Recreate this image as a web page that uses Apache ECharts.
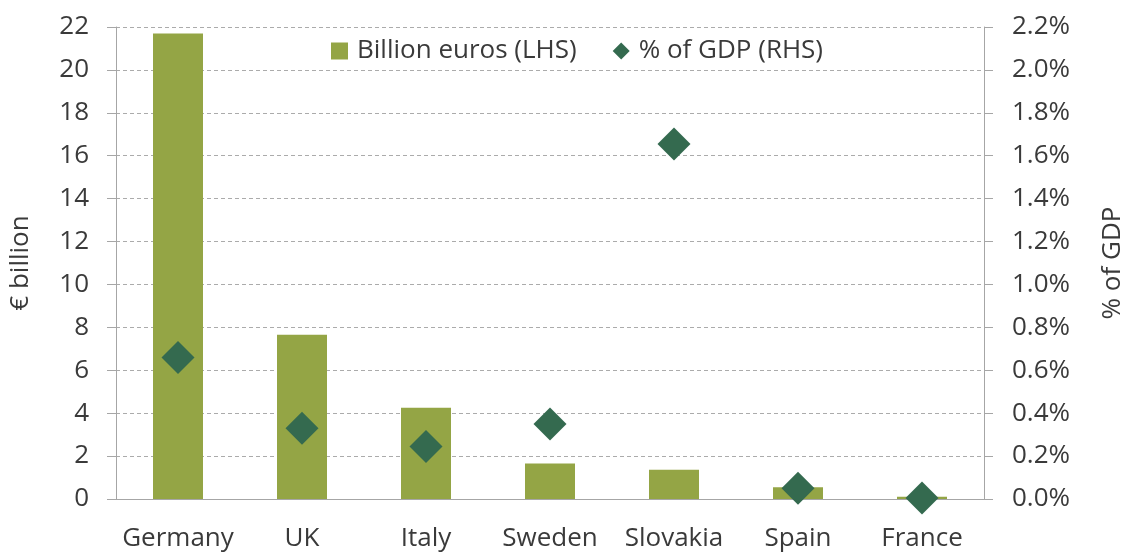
<!DOCTYPE html>
<html>
<head>
<meta charset="utf-8">
<script src="https://cdn.jsdelivr.net/npm/echarts@6/dist/echarts.min.js"></script>
<style>
    html, body { margin: 0; padding: 0; background: #fff; }
    #chart { width: 1123px; height: 552px; }
</style>
</head>
<body>
<div id="chart"></div>
<script>
    // categories and values
    const countries = ['Germany', 'UK', 'Italy', 'Sweden', 'Slovakia', 'Spain', 'France'];
    const billionEuros = [21.7, 7.65, 4.25, 1.66, 1.36, 0.55, 0.11];
    const pctOfGdp = [0.66, 0.33, 0.245, 0.35, 1.655, 0.05, 0.005];

    const textColor = '#3a3a3a';
    const axisGray = '#a6a6a6';
    const font = 'Open Sans';
    const fs = 26;

    let myChart = echarts.init(document.getElementById('chart'));
    let option = {
        backgroundColor: '#fff',
        animation: false,
        textStyle: {
            fontFamily: font
        },
        grid: {
            left: 116,
            right: 139,
            top: 27,
            bottom: 53,
            outerBoundsMode: 'none'
        },
        legend: {
            left: 326,
            top: 33,
            itemWidth: 17,
            itemHeight: 17,
            itemGap: 36,
            textStyle: {
                fontFamily: font,
                fontSize: fs,
                color: textColor,
                padding: [0, 0, 0, 4]
            },
            data: [
                {name: 'Billion euros (LHS)', icon: 'rect'},
                {name: '% of GDP (RHS)', icon: 'diamond'}
            ]
        },
        xAxis: {
            type: 'category',
            data: countries,
            axisLine: {lineStyle: {color: axisGray}},
            axisTick: {length: 9, lineStyle: {color: axisGray}},
            axisLabel: {
                interval: 0,
                color: textColor,
                fontSize: fs,
                fontFamily: font,
                margin: 27
            }
        },
        yAxis: [{
            type: 'value',
            min: 0,
            max: 22,
            interval: 2,
            name: '€ billion',
            nameLocation: 'middle',
            nameRotate: 90,
            nameGap: 82,
            nameTextStyle: {color: textColor, fontSize: fs, fontFamily: font},
            axisLine: {show: true, lineStyle: {color: axisGray}},
            axisTick: {show: true, length: 9, lineStyle: {color: axisGray}},
            axisLabel: {color: textColor, fontSize: fs, fontFamily: font, margin: 27},
            splitLine: {
                lineStyle: {color: '#ababab', type: [4, 3]}
            }
        }, {
            type: 'value',
            position: 'right',
            min: 0,
            max: 2.2,
            interval: 0.2,
            name: '% of GDP',
            nameLocation: 'middle',
            nameRotate: 90,
            nameGap: 116,
            nameTextStyle: {color: textColor, fontSize: fs, fontFamily: font},
            axisLine: {show: true, lineStyle: {color: axisGray}},
            axisTick: {show: true, length: 9, lineStyle: {color: axisGray}},
            axisLabel: {
                color: textColor,
                fontSize: fs,
                fontFamily: font,
                margin: 28,
                formatter: function (v) {
                    return v.toFixed(1) + '%';
                }
            },
            splitLine: {show: false}
        }],
        series: [{
            name: 'Billion euros (LHS)',
            type: 'bar',
            yAxisIndex: 0,
            barWidth: 50,
            itemStyle: {color: '#94a545'},
            data: billionEuros
        }, {
            name: '% of GDP (RHS)',
            type: 'scatter',
            yAxisIndex: 1,
            symbol: 'diamond',
            symbolSize: 33,
            itemStyle: {color: '#346a4f', opacity: 1},
            data: pctOfGdp
        }]
    };
    myChart.setOption(option);
</script>
</body>
</html>
